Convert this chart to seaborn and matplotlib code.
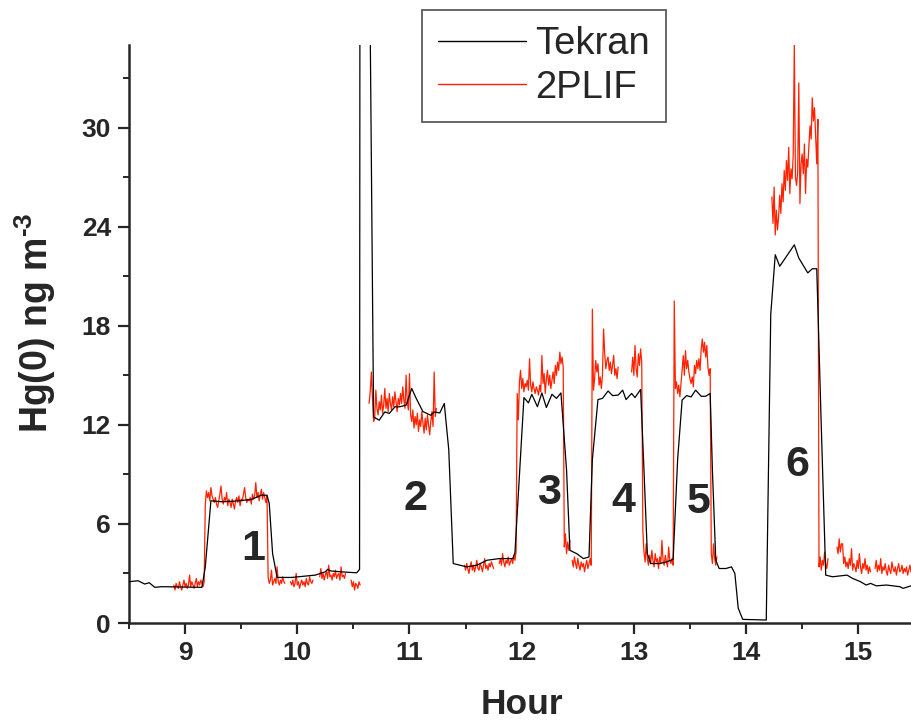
import numpy as np
import pandas as pd
import matplotlib
matplotlib.use("Agg")
import matplotlib.pyplot as plt
import seaborn as sns
from matplotlib.lines import Line2D
from matplotlib.ticker import MultipleLocator

sns.set_style("ticks")
plt.rcParams["font.family"] = ["Liberation Sans", "DejaVu Sans"]
plt.rcParams["mathtext.fontset"] = "custom"
plt.rcParams["mathtext.rm"] = "Liberation Sans"
plt.rcParams["mathtext.bf"] = "Liberation Sans:bold"

# Tekran analyser: coarse samples (hour, ng m^-3)
tekran_hour = [
    8.50, 8.58, 8.64, 8.68, 8.73, 8.79, 9.15, 9.18, 9.23, 9.33, 9.44, 9.59, 9.68, 9.73,
    9.75, 9.78, 9.82, 9.95, 10.07, 10.16, 10.25, 10.27, 10.30, 10.39, 10.53, 10.555,
    10.562, 10.60, 10.68, 10.73, 10.78, 10.82, 10.87, 10.91, 10.97, 11.02, 11.06, 11.12,
    11.19, 11.22, 11.27, 11.31, 11.35, 11.39, 11.45, 11.51, 11.60, 11.69, 11.80, 11.92,
    11.94, 12.02, 12.06, 12.09, 12.14, 12.18, 12.22, 12.27, 12.31, 12.35, 12.40, 12.43,
    12.49, 12.55, 12.60, 12.63, 12.68, 12.72, 12.77, 12.81, 12.86, 12.90, 12.93, 12.98,
    13.01, 13.06, 13.09, 13.12, 13.15, 13.23, 13.29, 13.35, 13.39, 13.43, 13.47, 13.51,
    13.55, 13.60, 13.64, 13.68, 13.70, 13.73, 13.76, 13.82, 13.87, 13.90, 13.93, 13.97,
    14.18, 14.22, 14.26, 14.30, 14.43, 14.47, 14.55, 14.59, 14.63, 14.67, 14.71, 14.77,
    14.90, 14.95, 15.02, 15.07, 15.11, 15.16, 15.25, 15.37, 15.40, 15.47,
]
tekran_value = [
    2.50, 2.56, 2.36, 2.44, 2.16, 2.20, 2.16, 3.40, 7.40, 7.34, 7.38, 7.48, 7.74, 7.74,
    7.24, 4.20, 2.76, 2.76, 2.84, 2.90, 3.10, 3.25, 3.15, 3.10, 3.04, 3.25,
    80.0, 75.0, 12.48, 12.28, 12.78, 12.69, 13.09, 13.09, 13.19, 14.20, 13.60, 12.80,
    12.58, 12.78, 12.72, 13.29, 10.50, 3.60, 3.50, 3.40, 3.50, 3.80, 3.90, 3.90,
    4.25, 13.65, 13.33, 13.85, 13.10, 13.93, 13.05, 13.85, 13.60, 13.93, 9.25, 4.40,
    4.20, 3.90, 4.00, 9.90, 13.53, 13.60, 14.05, 13.77, 13.80, 14.10, 13.53, 13.90,
    13.65, 14.14, 9.25, 4.20, 3.60, 3.60, 3.70, 3.85, 9.90, 13.50, 13.77, 13.69,
    14.10, 13.73, 13.73, 13.90, 9.25, 3.80, 3.30, 3.30, 3.40, 3.00, 0.90, 0.22,
    0.18, 18.70, 22.30, 21.60, 22.90, 22.10, 21.20, 21.45, 21.45, 12.00, 2.90, 2.80,
    2.90, 2.70, 2.50, 2.30, 2.40, 2.25, 2.30, 2.20, 2.10, 2.25,
]

# 2PLIF: continuous recording pieces, each evenly sampled between its start and end hour
plif_span = [
    (8.90, 9.89), (9.94, 10.14), (10.20, 10.43), (10.48, 10.56), (10.64, 11.24),
    (11.49, 11.75), (11.80, 12.43), (12.45, 12.86), (12.98, 13.74), (14.23, 14.73),
    (14.81, 14.85), (14.86, 15.11), (15.15, 15.47),
]
plif_run1 = [
    2.3, 2.0, 2.4, 2.2, 2.1, 2.5, 2.2, 2.0, 2.3, 2.6, 2.2, 2.4, 2.1, 2.3, 2.9, 2.2, 2.5, 2.3,
    2.1, 2.4, 2.7, 2.2, 2.5, 2.3, 2.6, 2.4, 2.2, 2.5,
    7.2, 8.0, 7.6, 7.9, 7.4, 8.2, 7.7, 7.5, 7.3, 7.6, 7.2, 7.0, 7.4, 7.8, 8.3, 7.5, 7.2, 7.6,
    7.4, 7.9, 7.1, 7.5, 7.3, 7.0, 7.5, 7.2, 6.9, 7.4, 7.6, 7.3, 7.7, 7.1, 7.5, 7.4, 7.8, 8.2,
    7.6, 7.3, 7.5, 7.4, 7.6, 7.2, 7.8, 7.5, 7.7, 8.5, 7.6, 7.9, 7.4, 7.8, 8.1, 7.5, 7.9, 7.6,
    7.3, 7.7,
    2.8, 2.4, 2.6, 3.2, 2.3, 2.5, 2.7, 2.4, 3.4, 2.5, 2.3, 2.6, 2.4, 2.8, 2.5, 2.4,
]
plif_run2 = [2.5, 2.3, 2.6, 2.2, 2.4, 3.0, 2.3, 2.5, 2.1, 2.4, 2.6, 2.3, 2.5, 2.2, 2.7,
             2.4, 2.3, 2.8, 2.5, 2.4, 2.6]
plif_run3 = [2.8, 3.3, 2.7, 3.0, 2.6, 2.9, 3.1, 2.7, 3.5, 2.8, 2.9, 2.6, 3.0, 2.8, 3.2,
             2.7, 2.9, 3.0, 2.6, 3.4, 2.8, 2.9, 2.7, 3.0]
plif_run4 = [2.6, 2.2, 2.5, 2.0, 2.4, 2.3, 2.1, 2.5, 2.3]
plif_run5 = [
    13.3, 14.0, 15.2, 13.6, 12.2, 12.4, 14.1, 13.0, 12.6, 13.4, 12.9, 13.8, 12.7, 13.2, 14.2,
    13.0, 13.6, 12.8, 13.9, 13.3, 12.9, 13.7, 13.1, 14.0, 13.4, 12.8, 13.6, 13.2, 13.9, 13.3,
    14.3, 13.5, 13.0, 15.0, 13.4, 12.9, 15.1, 12.6, 12.2, 12.9, 11.8, 12.5, 12.0, 12.7, 11.6,
    12.3, 11.9, 12.8, 12.1, 11.5, 12.4, 11.7, 12.6, 12.0, 11.4, 12.2, 12.8, 11.9, 15.2, 12.5,
    13.0,
]
plif_run6 = [3.5, 3.2, 3.6, 3.3, 3.0, 3.4, 3.7, 3.2, 3.5, 3.1, 3.4, 3.8, 3.3, 3.2, 3.6,
             3.4, 3.1, 3.5, 3.9, 3.3, 3.5, 3.2, 3.6, 3.4, 3.7, 3.5, 3.3]
plif_run7 = [
    3.6, 3.9, 3.5, 4.2, 3.7, 3.4, 3.8, 3.6, 4.0, 3.5, 3.7, 3.9, 3.6, 4.1, 3.8, 4.3,
    13.9, 12.3, 14.6, 15.3, 14.2, 14.8, 14.0, 14.5, 14.3, 14.7, 14.1, 16.0, 14.4, 14.0, 14.6,
    14.2, 13.9, 14.3, 14.1, 13.8, 14.4, 14.0, 16.2, 14.5, 15.1, 13.9, 14.8, 15.3, 14.4, 15.0,
    14.2, 14.7, 15.2, 14.5, 15.6, 15.0, 15.8, 15.3, 16.4, 15.7, 16.1, 15.5,
    4.6, 5.4, 4.2, 4.9, 4.4, 5.0,
]
plif_run8 = [
    3.8, 3.4, 4.0, 3.6, 3.3, 3.9, 3.5, 3.2, 3.7, 3.4, 3.6, 3.1, 3.5, 3.8, 3.3, 3.6, 3.9, 3.5,
    19.0, 14.1, 14.8, 15.9, 15.2, 15.7, 14.4, 14.9, 14.2, 15.0, 17.8, 16.3, 15.4, 15.9, 16.1,
    15.3, 15.8, 15.1, 15.6, 16.2, 15.0, 15.4, 14.8, 15.5,
]
plif_run9 = [
    15.2, 16.1, 15.0, 16.8, 15.4, 14.9, 16.3, 15.6, 16.6, 15.8,
    5.6, 4.3, 3.7, 4.8, 3.9, 3.5, 4.1, 3.6, 4.4, 3.8, 3.4, 4.2, 3.7, 3.9, 3.3, 4.0, 3.6, 5.0,
    3.8, 3.5, 4.1, 3.7, 3.4, 4.6, 3.8, 3.6, 3.9, 3.5,
    19.5, 14.2, 14.6, 13.9, 14.4, 13.7, 14.5, 15.3, 16.2, 15.0, 16.5, 15.4, 15.9, 15.2, 14.8,
    14.5, 14.9, 14.3, 15.6, 15.1, 15.9, 15.4, 16.0, 15.3, 16.6, 17.2, 16.4, 17.0, 16.1, 16.8,
    15.5, 15.0, 15.4,
    4.2, 3.6, 4.8, 3.9, 3.5, 4.0,
]
plif_run10 = [
    25.8, 24.2, 26.4, 23.5, 25.0, 23.8, 24.6, 25.9, 24.8, 26.6, 25.5, 27.4, 26.2, 28.0, 26.8,
    28.8, 26.0, 27.5, 26.9, 28.3, 35.0, 27.0, 26.5, 27.3, 32.7, 25.4, 27.8, 28.4, 27.2, 29.0,
    26.0, 28.1, 27.6, 28.9, 30.1, 29.3, 31.8, 30.4, 31.2, 29.5, 27.8, 30.5,
    3.4, 4.0, 3.2, 3.8, 3.5, 4.3, 3.6, 3.3, 3.9,
]
plif_run11 = [4.6, 4.2, 5.1, 4.3, 4.8]
plif_run12 = [4.8, 3.6, 4.0, 3.4, 3.7, 3.3, 3.9, 3.5, 4.5, 3.2, 3.6, 3.4, 3.1, 3.8, 3.3,
              4.2, 3.4, 3.0, 3.6, 3.3, 3.9, 3.2, 3.5, 3.0, 3.4, 3.1]
plif_run13 = [3.3, 3.8, 3.1, 3.5, 3.2, 3.9, 3.0, 3.4, 3.2, 3.6, 3.1, 2.9, 3.5, 3.2, 3.0,
              3.7, 3.3, 3.1, 3.4, 2.9, 3.3, 3.6, 3.1, 3.2, 3.5, 3.0, 3.3, 3.1, 3.4, 2.9,
              3.2, 3.5, 3.1]
plif_runs = [plif_run1, plif_run2, plif_run3, plif_run4, plif_run5, plif_run6, plif_run7,
             plif_run8, plif_run9, plif_run10, plif_run11, plif_run12, plif_run13]

# Experiment numbers and where they are written (hour, ng m^-3)
exp_labels = ["1", "2", "3", "4", "5", "6"]
exp_hour = [9.61, 11.05, 12.24, 12.91, 13.58, 14.46]
exp_level = [4.5, 7.5, 7.85, 7.4, 7.35, 9.55]

y_ticks = [0, 6, 12, 18, 24, 30]
x_ticks = [9, 10, 11, 12, 13, 14, 15]

tekran_df = pd.DataFrame({"hour": tekran_hour, "value": tekran_value})
frames = []
for k, ((t0, t1), vals) in enumerate(zip(plif_span, plif_runs)):
    frames.append(pd.DataFrame({"hour": np.linspace(t0, t1, len(vals)),
                                "value": vals, "run": k}))
plif_df = pd.concat(frames, ignore_index=True)

fig = plt.figure(figsize=(9.11, 7.22), dpi=100)
ax = fig.add_axes([0.1416, 0.1371, 0.8584, 0.8006])

red = "#ff2200"
sns.lineplot(data=plif_df, x="hour", y="value", units="run", estimator=None, sort=False,
             color=red, lw=0.9, ax=ax, legend=False, zorder=2)
sns.lineplot(data=tekran_df, x="hour", y="value", estimator=None, sort=False,
             color="black", lw=0.9, ax=ax, legend=False, zorder=3)

for lab, hx, hy in zip(exp_labels, exp_hour, exp_level):
    ax.text(hx, hy, lab, fontsize=31, fontweight="bold", ha="center", va="center")

ax.set_xlim(8.5, 15.47)
ax.set_ylim(0, 35)
ax.set_xticks(x_ticks)
ax.set_yticks(y_ticks)
ax.xaxis.set_minor_locator(MultipleLocator(0.5))
ax.yaxis.set_minor_locator(MultipleLocator(3))
ax.tick_params(which="major", length=8, width=1.6, labelsize=19, pad=5, direction="out")
ax.tick_params(which="minor", length=4.5, width=1.4, direction="out")
for lab in ax.get_xticklabels() + ax.get_yticklabels():
    lab.set_fontweight("bold")

for side in ("top", "right"):
    ax.spines[side].set_visible(False)
for side in ("left", "bottom"):
    ax.spines[side].set_linewidth(1.8)

ax.set_xlabel("Hour", fontsize=25.5, fontweight="bold")
ax.xaxis.set_label_coords(0.5026, -0.112)
ax.set_ylabel("Hg(0) ng m$^{\\mathbf{\u20103}}$", fontsize=27, fontweight="bold")
ax.yaxis.set_label_coords(-0.091, 0.52)

handles = [Line2D([], [], color="black", lw=1.0), Line2D([], [], color=red, lw=1.0)]
leg = fig.legend(handles, ["Tekran", "2PLIF"], loc="upper left",
                 bbox_to_anchor=(422 / 911, 1 - 10 / 722), fontsize=27.5,
                 frameon=True, fancybox=False, handlelength=2.3, handletextpad=0.25,
                 labelspacing=0.2, borderpad=0.42, borderaxespad=0.0)
leg.get_frame().set_edgecolor("#333333")
leg.get_frame().set_linewidth(1.3)

fig.savefig("out.png", dpi=100)
